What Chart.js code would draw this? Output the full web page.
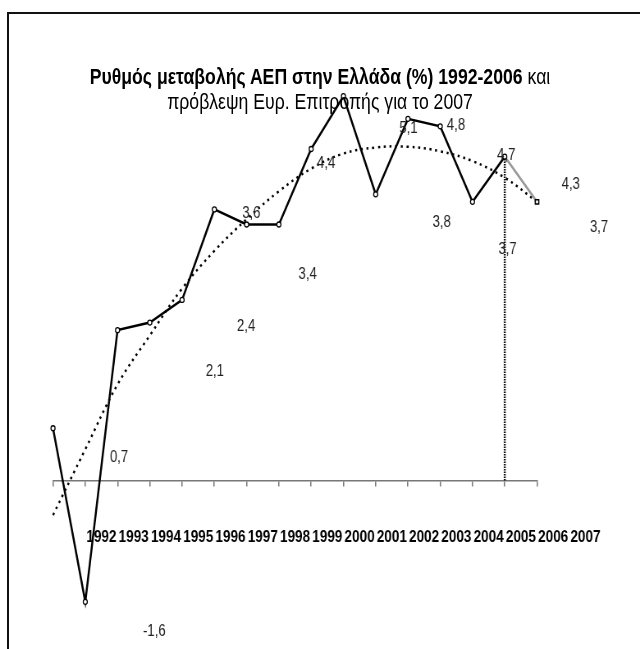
<!DOCTYPE html>
<html>
<head>
<meta charset="utf-8">
<script src="https://cdn.jsdelivr.net/npm/chart.js@4"></script>
<style>
  body { margin: 0; background: #fff; }
  #pagina { position: relative; width: 640px; height: 649px; overflow: hidden; }
  #frame { position: absolute; left: 7px; top: 12px; width: 700px; height: 700px;
    border-top: 2px solid #111; border-left: 2px solid #111; }
  /* Arial Narrow look: Liberation Sans squeezed horizontally */
  #stretto { position: absolute; left: 0; top: 0; width: 780px; height: 649px;
    transform: scaleX(0.8205); transform-origin: 0 0; }
  .title { position: absolute; left: 0; width: 780px; text-align: center;
    font-family: "Liberation Sans", Arial, sans-serif;
    font-size: 21.5px; line-height: 25px; color: #000; white-space: nowrap; }
  #t1 { top: 65px; }
  #t2 { top: 90px; }
  canvas { position: absolute; left: 0; top: 0; }
</style>
</head>
<body>
<div id="pagina">
  <div id="frame"></div>
  <div id="stretto">
    <canvas id="grafico" width="780" height="649"></canvas>
    <div class="title" id="t1"><b>Ρυθμός μεταβολής ΑΕΠ στην Ελλάδα (%) 1992-2006</b> και</div>
    <div class="title" id="t2">πρόβλεψη Ευρ. Επιτροπής για το 2007</div>
  </div>
</div>
<script>
const anni = ["1992", "1993", "1994", "1995", "1996", "1997", "1998", "1999",
  "2000", "2001", "2002", "2003", "2004", "2005", "2006", "2007"];
// ρυθμός μεταβολής ΑΕΠ (%)
const crescita = [0.7, -1.6, 2.0, 2.1, 2.4, 3.6, 3.4, 3.4, 4.4, 5.1, 3.8, 4.8, 4.7, 3.7, 4.3, null];
// πρόβλεψη 2007
const previsione = [null, null, null, null, null, null, null, null, null, null, null, null, null, null, 4.3, 3.7];
// πολυωνυμική τάση (διαβασμένη από το γράφημα)
const tendenza = [-0.45, 0.42, 1.28, 1.93, 2.55, 3.05, 3.47, 3.84, 4.14, 4.34, 4.42, 4.43, 4.37, 4.24, 4.02, 3.7];
// ετικέτες τιμών όπως φαίνονται (μερικές λείπουν)
const etichette = ["0,7", "-1,6", null, "2,1", "2,4", "3,6", "3,4", null,
  "4,4", "5,1", "3,8", "4,8", "4,7", "3,7", "4,3", "3,7"];

// screen pixel offsets of the (misplaced) value labels from their point
const spostamenti = [[66, 29], [69, 30], null, [65, 49], [64, 27], [37, 4], [61, 50], null,
  [15, 15], [65, 32], [66, 28], [48, 7], [66, 29], [35, 48], [66, 28], [62, 26]];

const compressione = 0.8205;
const fontSans = "'Liberation Sans', Arial, sans-serif";

const pluginEtichette = {
  id: "etichette",
  afterDatasetsDraw(chart) {
    const ctx = chart.ctx;
    const x = chart.scales.x;
    const y = chart.scales.y;
    ctx.save();
    ctx.font = "16px " + fontSans;
    ctx.fillStyle = "#222";
    ctx.textAlign = "center";
    ctx.textBaseline = "middle";
    etichette.forEach(function (testo, i) {
      if (!testo) return;
      const v = crescita[i] !== null ? crescita[i] : previsione[i];
      const px = x.getPixelForValue(i) + spostamenti[i][0] / compressione;
      const py = y.getPixelForValue(v) + spostamenti[i][1];
      ctx.fillText(testo, px, py);
    });
    ctx.restore();
  },
};

const canvas = document.getElementById("grafico");
const grafico = new Chart(canvas, {
  type: "line",
  data: {
    labels: anni,
    datasets: [
      {
        data: [{ x: "2006", y: 4.3 }, { x: "2006", y: 0 }],
        borderColor: "#111",
        borderWidth: 2.5,
        borderDash: [1.5, 1],
        pointRadius: 0,
        order: 3,
      },
      {
        data: tendenza,
        borderColor: "#000",
        borderWidth: 2.5,
        borderDash: [2.5, 4.5],
        tension: 0.4,
        pointRadius: 0,
        order: 2,
      },
      {
        data: previsione,
        borderColor: "#999",
        borderWidth: 2.5,
        pointStyle: ["circle", "rect"],
        pointRadius: [0, 3],
        pointBackgroundColor: "#fff",
        pointBorderColor: "#000",
        pointBorderWidth: 1.5,
        order: 1,
      },
      {
        data: crescita,
        borderColor: "#000",
        borderWidth: 2.5,
        pointRadius: 2.5,
        pointBackgroundColor: "#fff",
        pointBorderColor: "#000",
        pointBorderWidth: 1.3,
        order: 0,
      },
    ],
  },
  options: {
    responsive: false,
    animation: false,
    layout: { padding: { left: 64.6, right: 125.5, top: 66, bottom: 17 } },
    plugins: {
      legend: { display: false },
      tooltip: { enabled: false },
    },
    scales: {
      x: {
        type: "category",
        offset: false,
        position: { y: 0 },
        border: { display: true, color: "#777", width: 1.5 },
        grid: { drawOnChartArea: false, drawTicks: true, tickLength: 5, color: "#777", lineWidth: 1.5 },
        ticks: {
          autoSkip: false,
          maxRotation: 0,
          padding: 41,
          labelOffset: 59,
          color: "#000",
          font: { family: fontSans, size: 16.5, weight: "bold" },
        },
      },
      y: {
        display: false,
        min: -2,
        max: 5.5,
      },
    },
  },
  plugins: [pluginEtichette],
});
</script>
</body>
</html>
